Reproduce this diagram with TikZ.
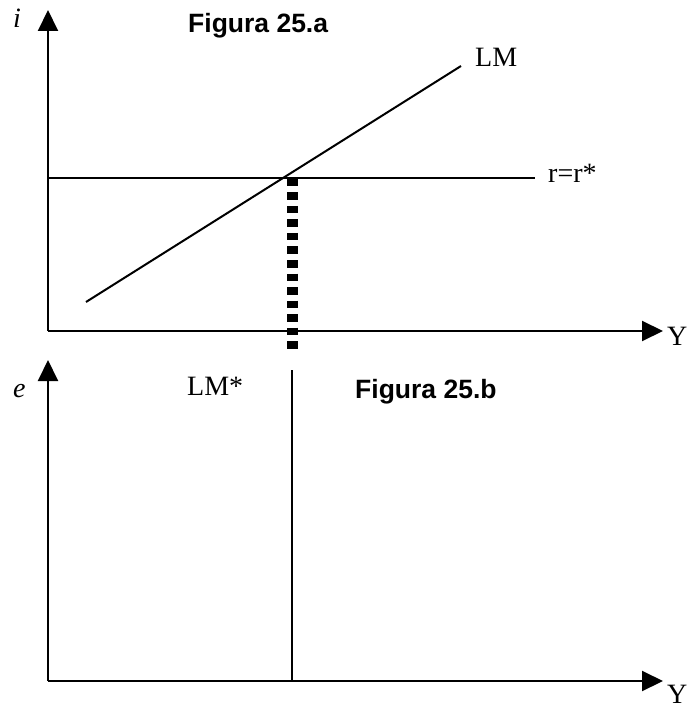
\documentclass[tikz,border=0pt]{standalone}
\usepackage{fontspec}
\setmainfont{Liberation Serif}
\newfontfamily\figfont{Liberation Sans}
\usetikzlibrary{arrows.meta}
\tikzset{
  axis/.style={-{Triangle[length=21pt,width=20pt]}, line width=2pt},
  curve/.style={line width=2pt},
  proj/.style={line width=11pt, dash pattern=on 7.5pt off 6pt},
  lbl/.style={inner sep=0pt, anchor=base west, font=\fontsize{28}{32}\selectfont},
  fig/.style={inner sep=0pt, anchor=base west, font=\figfont\bfseries\fontsize{26.5}{30}\selectfont},
}
\begin{document}
\begin{tikzpicture}[x=1pt, y=-1pt]
    \useasboundingbox (0,0) rectangle (689,708);
    % panel a
    \coordinate (oa) at (48,331);
    \coordinate (ya) at (48,10);
    \coordinate (xa) at (663,331);
    \draw[axis] (oa)--(ya); \draw[axis] (oa)--(xa);
    \coordinate (lm0) at (86,302);
    \coordinate (lm1) at (461,66);
    \coordinate (rr0) at (48,178);
    \coordinate (rr1) at (535,178);
    \draw[curve] (lm0)--(lm1); \draw[curve] (rr0)--(rr1);
    \coordinate (eq) at (292,179);
    \coordinate (eqd) at (292,353);
    \draw[proj] (eq)--(eqd);
    \node[lbl] (ia) at (13,28) {\textit{i}};
    \node[lbl] (ylba) at (667,345) {Y};
    \node[lbl] (lmlb) at (475,67) {LM};
    \node[lbl] (rrlb) at (548,183) {r=r*};
    \node[fig] (figa) at (188,33) {Figura 25.a};
    % panel b
    \coordinate (ob) at (48,681);
    \coordinate (yb) at (48,360);
    \coordinate (xb) at (663,681);
    \draw[axis] (ob)--(yb); \draw[axis] (ob)--(xb);
    \coordinate (ls0) at (292,370);
    \coordinate (ls1) at (292,681);
    \draw[curve] (ls0)--(ls1);
    \node[lbl] (eb) at (13,397) {\textit{e}};
    \node[lbl] (ylbb) at (667,703) {Y};
    \node[lbl] (lslb) at (187,395) {LM*};
    \node[fig] (figb) at (355,398) {Figura 25.b};
  \end{tikzpicture}
\end{document}
